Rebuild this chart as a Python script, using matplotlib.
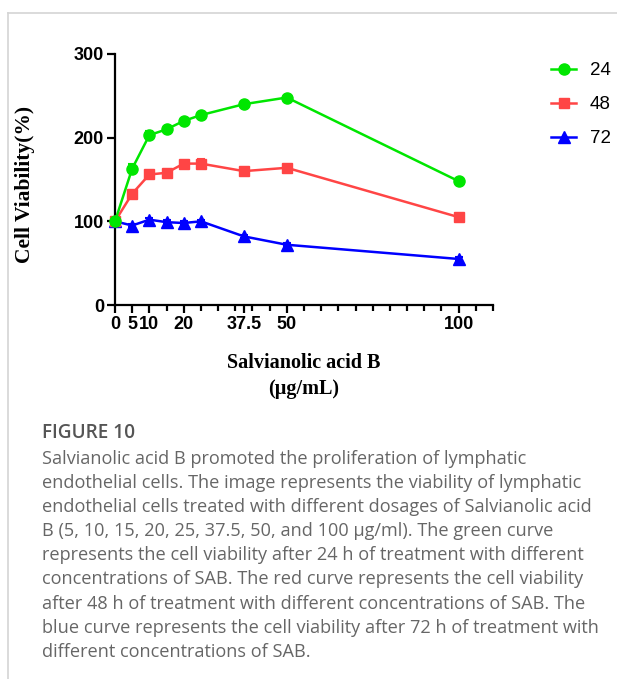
import numpy as np
import matplotlib
matplotlib.use('Agg')
from matplotlib import pyplot as plt
from matplotlib.lines import Line2D
from matplotlib.ticker import FixedLocator

# dose of Salvianolic acid B (ug/mL)
dose = [0, 5, 10, 15, 20, 25, 37.5, 50, 100]

# cell viability (%) per treatment time
viab_24 = [100, 163, 203, 210, 220, 227, 240, 248, 148]
viab_48 = [100, 133, 156, 158, 169, 169, 160, 164, 105]
viab_72 = [100, 95, 102, 99, 98, 100, 82, 72, 55]

err_24 = [0, 5, 5, 2, 2, 2, 2, 2, 2]
err_48 = [0, 2, 2, 2, 2, 5, 2, 2, 2]
err_72 = [0, 2, 2, 2, 2, 2, 2, 2, 2]

legend_labels = ['24', '48', '72']
xtick_major = [0, 5, 10, 20, 37.5, 50, 100]
xtick_major_labels = ['0', '5', '10', '20', '37.5', '50', '100']
xtick_minor = [15, 25, 30, 35, 40, 45, 55, 60, 65, 70, 75, 80, 85, 90, 95, 105, 110]
ytick_vals = [0, 100, 200, 300]

caption_title = 'FIGURE 10'
caption_lines = [
	'Salvianolic acid B promoted the proliferation of lymphatic',
	'endothelial cells. The image represents the viability of lymphatic',
	'endothelial cells treated with different dosages of Salvianolic acid',
	'B (5, 10, 15, 20, 25, 37.5, 50, and 100 \u00b5g/ml). The green curve',
	'represents the cell viability after 24 h of treatment with different',
	'concentrations of SAB. The red curve represents the cell viability',
	'after 48 h of treatment with different concentrations of SAB. The',
	'blue curve represents the cell viability after 72 h of treatment with',
	'different concentrations of SAB.',
]

W, H = 617, 679
fig = plt.figure(figsize=(W / 100, H / 100), dpi=100)

# page frame lines
fig.add_artist(Line2D([8 / W, 1], [1 - 13 / H, 1 - 13 / H], color='#d4d4d4', lw=1.2))
fig.add_artist(Line2D([8 / W, 8 / W], [0, 1 - 13 / H], color='#d4d4d4', lw=1.2))

ax = fig.add_axes([115 / W, 1 - 305 / H, 378 / W, 251 / H])

green = '#00e600'
red = '#ff4545'
blue = '#0000ff'

series = [
	(viab_72, err_72, blue, '^', 8.5),
	(viab_48, err_48, red, 's', 7.5),
	(viab_24, err_24, green, 'o', 8),
]
handles = {}
for vals, err, col, mk, ms in series:
	ax.errorbar(dose, vals, yerr=err, color=col, ecolor=col, elinewidth=1.5, capsize=3,
		capthick=1.5, lw=1.8, marker=mk, markersize=ms, clip_on=False, zorder=3)
	handles[col] = Line2D([], [], color=col, lw=1.8, marker=mk, markersize=ms)

leg = fig.legend([handles[green], handles[red], handles[blue]], legend_labels,
	loc='upper left', bbox_to_anchor=(551 / W, 1 - 62 / H), bbox_transform=fig.transFigure,
	frameon=False, borderpad=0, borderaxespad=0,
	prop={'family': 'Liberation Sans', 'size': 13.5}, handlelength=1.35,
	handletextpad=0.72, labelspacing=0.9)

ax.set_xlim(0, 110)
ax.set_ylim(0, 300)
ax.spines['top'].set_visible(False)
ax.spines['right'].set_visible(False)
for s in ['left', 'bottom']:
	ax.spines[s].set_linewidth(1.6)

ax.set_xticks(xtick_major)
ax.set_xticklabels(xtick_major_labels)
ax.xaxis.set_minor_locator(FixedLocator(xtick_minor))
ax.set_yticks(ytick_vals)
ax.tick_params(axis='both', which='major', width=1.6, length=6, direction='out', pad=2)
ax.tick_params(axis='x', which='minor', width=1.6, length=4, direction='out')
for lab in ax.get_xticklabels() + ax.get_yticklabels():
	lab.set_fontfamily('Liberation Sans')
	lab.set_fontweight('bold')
	lab.set_fontsize(13)

ax.set_ylabel('Cell Viability(%)', family='Liberation Serif', fontweight='bold',
	fontsize=15.5)
ax.yaxis.set_label_coords(-0.212, 0.482)
ax.set_xlabel('Salvianolic acid B\n(\u00b5g/mL)', family='Liberation Serif',
	fontweight='bold', fontsize=14.5, linespacing=1.4)
ax.xaxis.set_label_coords(0.5, -0.19)

# caption
fig.text(42 / W, 1 - 433 / H, caption_title, family='Open Sans', fontweight='semibold',
	fontsize=13.7, color='#555555', va='center')
for i, line in enumerate(caption_lines):
	fig.text(42 / W, 1 - (459 + i * 24.1) / H, line, family='Open Sans',
		fontsize=13.1, color='#666666', va='center')

fig.savefig('out.png', dpi=100)
